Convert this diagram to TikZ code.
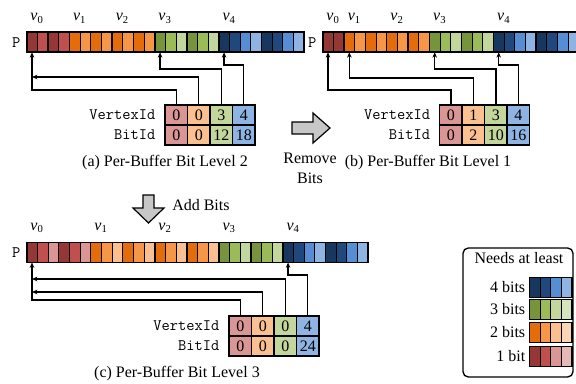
\documentclass[tikz,border=0pt]{standalone}
\usepackage{fontspec}
\setmainfont{Liberation Serif}
\usetikzlibrary{arrows.meta,positioning}

\definecolor{R0}{HTML}{953735}
\definecolor{R1}{HTML}{C0504D}
\definecolor{R2}{HTML}{D99694}
\definecolor{R3}{HTML}{E6B9B8}
\definecolor{O0}{HTML}{E46C0A}
\definecolor{O1}{HTML}{F79646}
\definecolor{O2}{HTML}{FAC090}
\definecolor{O3}{HTML}{FCD5B5}
\definecolor{G0}{HTML}{77933C}
\definecolor{G1}{HTML}{9BBB59}
\definecolor{G2}{HTML}{C3D69B}
\definecolor{G3}{HTML}{D7E4BD}
\definecolor{B0}{HTML}{17375E}
\definecolor{B1}{HTML}{1F497D}
\definecolor{B2}{HTML}{558ED5}
\definecolor{B3}{HTML}{8EB4E3}

\tikzset{
	bit/.style={draw, line width=0.5pt, inner sep=0, outer sep=0, minimum width=8pt, minimum height=15pt},
	idcell/.style={draw, line width=1.2pt, inner sep=0, outer sep=0, minimum width=16.875pt, minimum height=15pt},
	conn/.style={line width=0.9pt, -{Stealth[length=4pt,width=3.4pt]}},
	blockarrow/.style={draw, line width=0.9pt, fill=black!22},
	rowname/.style={inner sep=0, left=7pt of #1},
}

\begin{document}
\begin{tikzpicture}[x=0.75pt, y=0.75pt, font=\fontsize{12}{15}\selectfont]
	\useasboundingbox (0,0) rectangle (576,383);
	\clip (0,0) rectangle (576,383);

	% (a) level 2
	\foreach \c/\s [count=\i from 0] in {R/0,R/1,R/0,R/1,O/0,O/1,O/0,O/1,O/0,O/1,O/0,O/1,G/0,G/1,G/2,G/0,G/1,G/2,B/0,B/1,B/2,B/3,B/0,B/1,B/2,B/3} {
		\node[bit, fill=\c\s] (pa\i) at ({32+10.67*\i}, 340.7) {};
		\ifnum\s=0 \ifnum\i>0 \draw[line width=1.2pt] (pa\i.north west) -- (pa\i.south west); \fi\fi
	}
	\draw[line width=1.4pt] (pa0.north west) rectangle (pa25.south east);
	\node[anchor=east, inner sep=0] (pa) at ([xshift=-4.5pt]pa0.west) {\texttt{P}};
	\foreach \v/\k in {0/0, 1/4, 2/8, 3/12, 4/18}
		\node[anchor=base] (av\v) at ([xshift=3.75pt, yshift=8.5pt]pa\k.north) {\textit{v}\textsubscript{\v}};

	\node[idcell, fill=R2] (va1) at (176.25, 268) {0};
	\node[idcell, fill=O2, right=0pt of va1] (va2) {0};
	\node[idcell, fill=G2, right=0pt of va2] (va3) {3};
	\node[idcell, fill=B3, right=0pt of va3] (va4) {4};
	\node[idcell, fill=R2, below=0pt of va1] (ba1) {0};
	\node[idcell, fill=O2, below=0pt of va2] (ba2) {0};
	\node[idcell, fill=G2, below=0pt of va3] (ba3) {12};
	\node[idcell, fill=B3, below=0pt of va4] (ba4) {18};
	\node[rowname=va1] (vla) {\texttt{VertexId}};
	\node[rowname=ba1] (bla) {\texttt{BitId}};

	\draw[conn] (va1.north) -- ++(0,15) -| (pa0.south);
	\draw[conn] (va2.north) |- (pa0 |- 0,306);
	\draw[conn] (va3.north) -- ++(0,36) -| (pa12.south);
	\draw[conn] (va4.north) -- ++(0,40) -| (pa18.south);

	\node (capa) at (165, 220) {(a) Per-Buffer Bit Level 2};

	% (b) level 1
	\foreach \c/\s [count=\i from 0] in {R/0,R/0,O/0,O/1,O/0,O/1,O/0,O/1,O/0,O/1,G/0,G/1,G/2,G/0,G/1,G/2,B/0,B/1,B/2,B/3,B/0,B/1,B/2,B/3} {
		\node[bit, fill=\c\s] (pb\i) at ({328+10.67*\i}, 340.7) {};
		\ifnum\s=0 \ifnum\i>0 \draw[line width=1.2pt] (pb\i.north west) -- (pb\i.south west); \fi\fi
	}
	\draw[line width=1.4pt] (pb0.north west) rectangle (pb23.south east);
	\node[anchor=east, inner sep=0] (pb) at ([xshift=-4.5pt]pb0.west) {\texttt{P}};
	\foreach \v/\k in {0/0, 1/2, 2/6, 3/10, 4/16}
		\node[anchor=base] (bv\v) at ([xshift=3.75pt, yshift=8.5pt]pb\k.north) {\textit{v}\textsubscript{\v}};

	\node[idcell, fill=R2] (vb1) at (450.9, 268) {0};
	\node[idcell, fill=O2, right=0pt of vb1] (vb2) {1};
	\node[idcell, fill=G2, right=0pt of vb2] (vb3) {3};
	\node[idcell, fill=B3, right=0pt of vb3] (vb4) {4};
	\node[idcell, fill=R2, below=0pt of vb1] (bb1) {0};
	\node[idcell, fill=O2, below=0pt of vb2] (bb2) {2};
	\node[idcell, fill=G2, below=0pt of vb3] (bb3) {10};
	\node[idcell, fill=B3, below=0pt of vb4] (bb4) {16};
	\node[rowname=vb1] (vlb) {\texttt{VertexId}};
	\node[rowname=bb1] (blb) {\texttt{BitId}};

	\draw[conn] (vb1.north) -- ++(0,15) -| (pb0.south);
	\draw[conn] (vb2.north) -- ++(0,27) -| (pb2.south);
	\draw[conn] (vb3.north) -- ++(0,36) -| (pb10.south);
	\draw[conn] (vb4.north) -- ++(0,40) -| (pb16.south);

	\node (capb) at (428, 220) {(b) Per-Buffer Bit Level 1};

	% (c) level 3
	\foreach \c/\s [count=\i from 0] in {R/0,R/1,R/2,R/0,R/1,R/2,O/0,O/1,O/2,O/0,O/1,O/2,O/0,O/1,O/2,O/0,O/1,O/2,G/0,G/1,G/2,G/0,G/1,G/2,B/0,B/1,B/2,B/3,B/0,B/1,B/2,B/3} {
		\node[bit, fill=\c\s] (pc\i) at ({32+10.67*\i}, 130.5) {};
		\ifnum\s=0 \ifnum\i>0 \draw[line width=1.2pt] (pc\i.north west) -- (pc\i.south west); \fi\fi
	}
	\draw[line width=1.4pt] (pc0.north west) rectangle (pc31.south east);
	\node[anchor=east, inner sep=0] (pc) at ([xshift=-4.5pt]pc0.west) {\texttt{P}};
	\foreach \v/\k in {0/0, 1/6, 2/12, 3/18, 4/24}
		\node[anchor=base] (cv\v) at ([xshift=3.75pt, yshift=9pt]pc\k.north) {\textit{v}\textsubscript{\v}};

	\node[idcell, fill=R2] (vc1) at (240.25, 57) {0};
	\node[idcell, fill=O2, right=0pt of vc1] (vc2) {0};
	\node[idcell, fill=G2, right=0pt of vc2] (vc3) {0};
	\node[idcell, fill=B3, right=0pt of vc3] (vc4) {4};
	\node[idcell, fill=R2, below=0pt of vc1] (bc1) {0};
	\node[idcell, fill=O2, below=0pt of vc2] (bc2) {0};
	\node[idcell, fill=G2, below=0pt of vc3] (bc3) {0};
	\node[idcell, fill=B3, below=0pt of vc4] (bc4) {24};
	\node[rowname=vc1] (vlc) {\texttt{VertexId}};
	\node[rowname=bc1] (blc) {\texttt{BitId}};

	\draw[conn] (vc1.north) -- ++(0,16) -| (pc0.south);
	\draw[conn] (vc2.north) |- (pc0 |- 0,91);
	\draw[conn] (vc3.north) |- (pc0 |- 0,104);
	\draw[conn] (vc4.north) -- ++(0,41) -| (pc24.south);

	\node (capc) at (177, 9) {(c) Per-Buffer Bit Level 3};

	% remove / add arrows
	\draw[blockarrow] (292,261) -- (313,261) -- (313,270) -- (330,255) -- (313,240) -- (313,249) -- (292,249) -- cycle;
	\node[align=center] (remove) at (310, 215) {Remove\\Bits};

	\draw[blockarrow] (143,188) -- (154,188) -- (154,175) -- (164,175) -- (148.5,160) -- (133,175) -- (143,175) -- cycle;
	\node[anchor=west, inner sep=0] (add) at (172, 178) {Add Bits};

	% key
	\node[draw, rounded corners=4pt, line width=1pt, inner sep=0, minimum width=82.5pt, minimum height=96.75pt] (keybox) at (518, 70.5) {};
	\node (keytitle) at (519, 125) {Needs at least};
	\foreach \c/\t/\y in {B/4 bits/95.5, G/3 bits/73.5, O/2 bits/50.5, R/1 bit/26.5} {
		\foreach \k in {0,...,3}
			\node[bit, fill=\c\k] (key\c\k) at ({534.8+10.67*\k}, \y) {};
		\draw[line width=1.4pt] (key\c0.north west) rectangle (key\c3.south east);
		\node[anchor=east, inner sep=0] (keylabel\c) at ([xshift=-3pt]key\c0.west) {\t};
	}
\end{tikzpicture}
\end{document}
